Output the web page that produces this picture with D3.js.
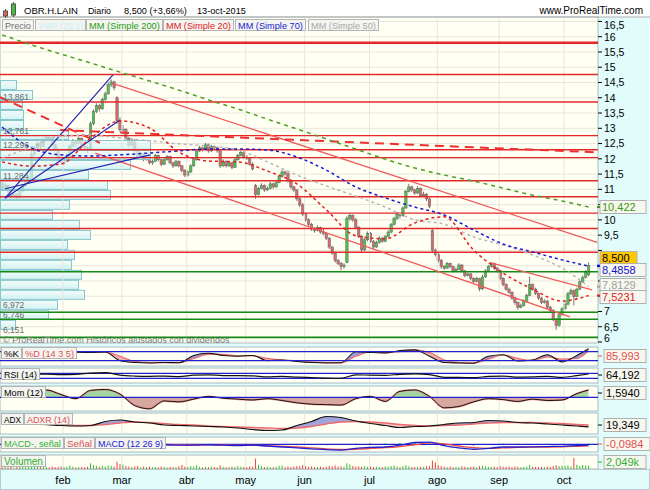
<!DOCTYPE html>
<html><head><meta charset="utf-8">
<script src="https://cdn.jsdelivr.net/npm/d3@7"></script>
<style>
body{margin:0;background:#fff;}
svg{display:block;font-family:"Liberation Sans",Arial,sans-serif;}
</style></head><body><svg id="c" width="650" height="490"></svg>
<script>
// ---------------- DATA ----------------
const monthNames = ["ene","feb","mar","abr","may","jun","jul","ago","sep","oct"];
// daily bars [open, high, low, close]
const barsEne = [[11.20,11.25,10.95,11.04],[11.04,11.20,11.00,11.14],[11.14,11.16,10.88,10.94],[10.94,10.98,10.70,10.79],[10.79,10.92,10.72,10.84],[10.84,10.88,10.66,10.74],[10.74,10.98,10.70,10.94],[10.94,11.18,10.90,11.14],[11.14,11.32,11.08,11.28],[11.28,11.45,11.22,11.38],[11.40,12.25,11.38,12.16],[12.16,12.42,12.10,12.36],[12.36,12.60,12.30,12.51],[12.51,12.58,12.30,12.41],[12.41,12.68,12.38,12.61],[12.61,12.78,12.55,12.70],[12.70,12.75,12.55,12.66],[12.66,12.70,12.40,12.46],[12.46,12.50,12.25,12.31],[12.31,12.35,11.95,12.02],[12.02,12.08,11.80,11.87]];
const barsFeb = [[11.87,12.00,11.78,11.92],[11.92,12.12,11.88,12.06],[12.06,12.48,12.02,12.41],[12.41,12.65,12.38,12.56],[12.56,12.62,12.42,12.51],[12.51,12.72,12.48,12.66],[12.66,12.70,12.40,12.46],[12.46,12.52,12.30,12.36],[12.36,12.42,12.18,12.26],[12.28,13.22,12.25,13.15],[13.15,13.62,13.10,13.55],[13.55,13.82,13.50,13.74],[13.74,13.80,13.55,13.64],[13.64,14.00,13.60,13.94],[13.94,14.20,13.90,14.13],[14.13,14.50,14.10,14.43],[14.43,14.60,14.35,14.52],[14.52,14.56,14.25,14.33],[14.00,14.05,13.15,13.25],[13.25,13.35,12.88,12.95]];
const barsMar = [[12.95,13.10,12.80,12.96],[12.96,13.00,12.60,12.66],[12.66,12.72,12.40,12.46],[12.46,12.68,12.42,12.61],[12.61,12.65,12.20,12.26],[12.26,12.30,12.00,12.06],[12.06,12.22,12.02,12.16],[12.16,12.20,11.92,11.97],[11.97,12.12,11.94,12.07],[12.07,12.10,11.82,11.87],[11.87,11.98,11.80,11.92],[11.92,12.16,11.90,12.11],[12.11,12.14,11.92,11.97],[11.97,12.00,11.76,11.82],[11.82,12.02,11.80,11.97],[11.97,12.12,11.94,12.07],[12.07,12.10,11.82,11.87],[11.87,11.90,11.70,11.77],[11.77,11.96,11.74,11.92],[11.92,11.95,11.72,11.77],[11.77,11.80,11.56,11.62],[11.62,11.66,11.40,11.47]];
const barsAbr = [[11.47,11.62,11.42,11.57],[11.57,11.82,11.54,11.77],[11.77,12.02,11.74,11.97],[11.97,12.32,11.94,12.26],[12.26,12.42,12.22,12.36],[12.36,12.40,12.24,12.31],[12.31,12.52,12.28,12.46],[12.46,12.50,12.20,12.26],[12.26,12.46,12.22,12.41],[12.41,12.44,12.30,12.36],[12.36,12.40,12.20,12.26],[12.26,12.30,11.70,11.77],[11.77,11.98,11.74,11.92],[11.92,11.95,11.72,11.77],[11.77,11.92,11.74,11.87],[11.87,11.90,11.66,11.72],[11.72,12.02,11.70,11.97],[11.97,12.16,11.94,12.11],[12.11,12.26,12.08,12.21],[12.21,12.24,12.00,12.06]];
const barsMay = [[12.06,12.12,11.96,12.02],[12.02,12.06,11.78,11.82],[11.82,11.88,11.62,11.67],[11.13,11.18,10.69,10.83],[10.83,11.08,10.80,11.03],[11.03,11.20,11.00,11.13],[11.13,11.16,10.92,10.98],[10.98,11.10,10.94,11.03],[11.03,11.24,11.00,11.18],[11.18,11.22,11.02,11.08],[11.08,11.30,11.05,11.23],[11.23,11.48,11.20,11.42],[11.42,11.64,11.38,11.57],[11.57,11.62,11.45,11.52],[11.52,11.55,11.22,11.28],[11.28,11.32,11.02,11.08],[11.08,11.12,10.92,10.98],[10.98,11.00,10.62,10.69],[10.69,10.74,10.42,10.49],[10.49,10.55,10.12,10.19]];
const barsJun = [[10.19,10.24,9.94,10.00],[10.00,10.05,9.80,9.85],[9.85,9.90,9.64,9.70],[9.70,9.76,9.58,9.65],[9.65,9.82,9.62,9.75],[9.75,9.78,9.55,9.60],[9.60,9.70,9.50,9.55],[9.55,9.58,9.34,9.40],[9.40,9.44,9.05,9.11],[9.11,9.15,8.86,8.91],[8.91,8.95,8.60,8.67],[8.67,8.72,8.52,8.57],[8.57,8.62,8.35,8.47],[8.47,8.58,8.40,8.52],[8.60,10.12,8.58,10.05],[10.05,10.22,9.98,10.14],[10.14,10.18,9.94,10.00],[10.00,10.06,9.70,9.76],[9.76,9.80,9.40,9.46],[9.46,9.50,8.95,9.02],[9.02,9.40,8.98,9.35],[9.35,9.62,9.30,9.56]];
const barsJul = [[9.56,9.60,9.25,9.30],[9.30,9.34,9.05,9.11],[9.11,9.32,9.08,9.26],[9.26,9.46,9.22,9.40],[9.40,9.44,9.25,9.30],[9.30,9.50,9.27,9.45],[9.45,9.66,9.42,9.60],[9.60,9.90,9.56,9.85],[9.85,10.10,9.82,10.05],[10.05,10.25,10.00,10.19],[10.19,10.22,10.05,10.14],[10.14,10.45,10.10,10.39],[10.39,10.98,10.36,10.93],[10.93,11.18,10.90,11.08],[11.08,11.12,10.92,10.98],[10.98,11.02,10.82,10.88],[10.88,11.10,10.85,11.03],[11.03,11.06,10.74,10.79],[10.79,10.92,10.76,10.84],[10.84,10.88,10.62,10.69],[10.69,10.72,10.38,10.44],[9.65,9.70,8.95,9.01],[9.01,9.06,8.80,8.87]];
const barsAgo = [[8.87,8.92,8.60,8.67],[8.67,8.72,8.40,8.47],[8.47,8.52,8.36,8.42],[8.42,8.62,8.40,8.57],[8.57,8.60,8.42,8.47],[8.47,8.50,8.28,8.33],[8.33,8.44,8.30,8.38],[8.38,8.58,8.35,8.52],[8.52,8.55,8.28,8.33],[8.33,8.36,8.12,8.18],[8.18,8.28,8.15,8.23],[8.23,8.26,8.02,8.08],[8.08,8.12,7.92,7.98],[7.98,8.14,7.95,8.08],[8.08,8.10,7.66,7.74],[7.74,8.20,7.70,8.13],[8.13,8.38,8.10,8.33],[8.33,8.52,8.30,8.47],[8.47,8.62,8.44,8.57],[8.57,8.60,8.36,8.42],[8.42,8.46,8.28,8.33]];
const barsSep = [[8.33,8.36,8.02,8.08],[8.08,8.12,7.82,7.88],[7.88,7.92,7.68,7.73],[7.73,7.78,7.58,7.63],[7.63,7.66,7.38,7.44],[7.44,7.48,7.22,7.29],[7.29,7.32,7.06,7.14],[7.14,7.26,7.10,7.19],[7.19,7.40,7.16,7.34],[7.34,7.58,7.30,7.53],[7.53,8.14,7.50,7.88],[7.88,7.92,7.68,7.73],[7.73,7.78,7.54,7.59],[7.59,7.62,7.38,7.44],[7.44,7.48,7.24,7.29],[7.29,7.40,7.26,7.34],[7.34,7.38,7.08,7.14],[7.14,7.18,6.98,7.04],[7.04,7.08,6.68,6.75],[6.75,6.78,6.40,6.55],[6.55,6.95,6.50,6.90],[6.90,7.14,6.86,7.09]];
const barsOct = [[7.09,7.30,7.05,7.24],[7.24,7.64,7.20,7.58],[7.58,7.75,7.54,7.68],[7.68,7.72,7.20,7.49],[7.49,7.78,7.46,7.73],[7.73,8.02,7.70,7.97],[7.97,8.18,7.94,8.12],[8.12,8.36,8.08,8.31],[8.20,8.60,8.15,8.50]];
// daily volume (thousands)
const volEne = [1.5,1.2,1.0,1.3,0.8,1.1,1.4,1.6,1.2,1.8,3.2,2.0,1.5,1.2,1.8,1.3,1.0,1.5,1.2,1.4,1.6];
const volFeb = [1.2,1.5,2.2,1.4,1.0,1.2,1.3,1.1,1.4,3.5,2.4,1.8,1.3,2.0,1.6,2.2,2.0,1.5,4.5,3.0];
const volMar = [2.6,1.8,1.5,1.2,1.6,1.9,1.0,1.4,1.2,1.5,1.1,1.3,1.0,1.6,1.2,1.0,1.4,1.1,1.3,1.7,2.5,1.4];
const volAbr = [1.2,1.8,1.5,2.2,1.3,1.0,1.4,1.1,1.6,1.2,1.0,2.3,1.4,1.1,1.2,1.5,1.3,1.8,1.4,1.2];
const volMay = [1.1,1.6,1.4,6.5,2.6,1.8,1.2,1.5,1.3,1.1,1.4,1.9,2.1,1.2,1.6,1.3,1.5,1.8,1.6,2.4];
const volJun = [1.8,1.4,1.6,1.2,1.3,1.5,1.1,1.4,1.9,1.6,2.2,1.5,1.7,1.4,3.5,2.8,1.8,1.5,1.6,1.4,1.7,1.3];
const volJul = [1.5,1.2,1.4,1.3,1.2,1.6,1.4,1.8,2.1,1.5,1.2,1.9,2.4,1.6,1.3,1.2,1.4,1.5,1.3,1.6,1.8,5.2,4.0];
const volAgo = [2.3,1.8,1.4,1.2,1.5,1.1,1.3,1.2,1.6,1.4,1.2,1.3,1.5,1.1,1.8,2.0,1.6,1.4,1.3,1.5,1.2];
const volSep = [1.6,1.4,1.3,1.5,1.2,1.6,1.4,1.2,1.3,1.5,2.4,1.3,1.2,1.1,1.4,1.2,1.5,1.3,1.7,2.3,1.8,2.0];
const volOct = [1.9,2.1,1.6,6.8,2.6,1.8,2.5,2.2,2.049];

// moving averages & indicators read at these bar indices
const sampleIdx = [0,5,10,15,20,25,30,35,40,45,50,55,60,65,70,75,80,85,90,95,100,105,110,115,120,125,130,135,140,145,150,155,160,165,170,175,180,185,190,195,199];
const maIdx = [0,10,20,30,40,50,60,70,80,90,100,110,120,130,140,150,160,170,180,190,199];
const sma200 = [16.06,15.73,15.43,15.14,14.84,14.55,14.25,13.93,13.63,13.30,12.98,12.65,12.32,11.99,11.70,11.47,11.27,11.04,10.81,10.62,10.422];
const sma20  = [11.90,11.76,11.83,12.68,13.24,13.01,12.22,11.93,11.90,11.60,11.18,10.33,9.48,9.38,9.90,10.10,9.01,8.26,7.73,7.34,7.5231];
const sma70  = [13.04,12.35,12.13,12.09,12.13,12.19,12.26,12.32,12.32,12.29,12.06,11.63,11.08,10.72,10.42,10.16,9.67,9.21,8.95,8.69,8.4858];
const sma50  = [12.03,12.39,12.75,12.78,12.68,12.59,12.49,12.42,12.29,11.90,11.47,11.11,10.78,10.42,10.00,9.86,9.44,9.18,8.85,8.42,7.8129];
const stochK = [70,70,75,80,78,76,75,78,20,8,5,8,6,55,70,55,50,55,20,25,15,8,5,6,80,75,72,88,92,50,8,5,3,50,60,18,25,60,12,55,100];
const stochD = [72,71,72,78,79,77,76,77,50,15,7,7,7,35,62,62,52,53,35,24,20,11,7,6,50,78,74,80,90,75,25,7,5,30,58,35,22,45,30,35,85.993];
const rsi14  = [55,55,62,63,60,62,72,76,55,48,46,48,44,55,58,52,52,50,42,45,40,36,32,30,58,55,54,62,65,60,38,38,35,45,48,40,42,46,38,52,64.192];
const mom12  = [1.0,1.3,1.5,1.6,0.6,-0.3,1.5,1.7,0.7,-1.8,-2.5,-0.8,-1.0,-0.4,0.2,-0.2,-0.4,-0.6,-0.3,-0.7,-1.2,-1.5,-1.6,-1.7,-0.3,0.2,-0.9,1.3,1.6,0.2,-2.3,-2.0,-1.0,-0.3,-0.5,-0.9,-0.4,-0.7,-0.6,0.8,1.594];
const adx    = [30,28,26,24,22,21,22,30,33,29,27,23,22,21,20,19,17,14,12,13,22,30,40,38,31,26,22,18,20,21,24,27,28,32,31,28,27,25,23,21,19.349];
const adxr   = [27,26,25,24,23,22,22,24,27,29,28,26,24,23,21,20,19,18,17,16,17,20,25,29,30,29,27,24,22,21,22,23,25,27,28,28,28,27,26,24,23];
const macd   = [0.1,0.15,0.2,0.25,0.2,0.1,0.15,0.3,0.35,0.2,0.05,-0.05,-0.1,-0.1,-0.05,-0.1,-0.15,-0.1,-0.2,-0.3,-0.4,-0.5,-0.6,-0.65,-0.45,-0.35,-0.3,-0.1,0.2,0.25,-0.15,-0.4,-0.55,-0.45,-0.3,-0.3,-0.28,-0.25,-0.22,-0.15,-0.0984];
const macdSignal = [0.05,0.1,0.15,0.2,0.22,0.15,0.12,0.22,0.3,0.27,0.15,0.03,-0.05,-0.08,-0.07,-0.08,-0.12,-0.12,-0.15,-0.22,-0.3,-0.4,-0.5,-0.58,-0.55,-0.45,-0.38,-0.25,-0.05,0.15,0.05,-0.2,-0.38,-0.45,-0.4,-0.35,-0.32,-0.3,-0.27,-0.22,-0.18];

// volume by price (25 bins, top to bottom)
const vwpRange = [6.40, 14.58];
const vwpVolumes = [16,32,22,23,23,68,150,150,130,88,107,110,69,52,79,90,67,74,71,81,78,84,57,48,15];

// drawn levels
const redLevels = [15.80,14.76,13.861,12.761,12.296,12.04,11.284,10.76,10.22,9.72,8.94];
const greenLevels = [8.30,6.972,6.746,6.151];
const labeledLevels = [13.861,12.761,12.296,11.284,6.972,6.746,6.151];
// trend lines [[i,v],[i,v]]
const redTrend = [[[38.3,14.45],[201.9,9.26]],[[31.6,12.19],[192.7,6.82]],[[165.6,8.60],[200.2,7.71]]];
const redDashTrend = [[[-0.7,14.02],[33.2,12.52]],[[19.7,12.94],[202.2,12.21]]];
const blueTrend = [[[1.0,10.71],[37.6,14.75]],[[1.0,10.71],[40.0,13.27]],[[1.0,11.02],[50.2,12.13]]];

const priceTicks = [6,6.5,7,7.5,8,8.5,9,9.5,10,10.5,11,11.5,12,12.5,13,13.5,14,14.5,15,15.5,16,16.5];
const lastValues = [
  {v:"10,422", c:"#3a9a10", y:10.422},
  {v:"8,500", c:"#000", y:8.5, bg:"#ffc800"},
  {v:"8,4858", c:"#1010d0", y:8.4858},
  {v:"7,8129", c:"#a0a0a0", y:7.8129},
  {v:"7,5231", c:"#e02020", y:7.5231}
];
const headerTexts = [["OBR.H.LAIN",24,54],["Diario",88,23],["8,500 (+3,66%)",124,63],["13-oct-2015",197,49]];
const legendItems = [["Precio","#707070",2,31],["VWP (25 1)","#c4f2f6",35,50],["MM (Simple 200)","#2a9a10",86,76],["MM (Simple 20)","#e02020",163,70],["MM (Simple 70)","#1a1ad0",235,70],["MM (Simple 50)","#a8a8a8",308,70]];

// ---------------- BUILD ----------------
const monthSets = [barsEne,barsFeb,barsMar,barsAbr,barsMay,barsJun,barsJul,barsAgo,barsSep,barsOct];
const volSets = [volEne,volFeb,volMar,volAbr,volMay,volJun,volJul,volAgo,volSep,volOct];
const bars = [];
const monthStart = [];
monthSets.forEach((m,mi)=>{ monthStart.push(bars.length); m.forEach((b,k)=>bars.push({i:bars.length,o:b[0],h:b[1],l:b[2],c:b[3],vol:volSets[mi][k]})); });
const N = bars.length;

const W=650,H=490,PR=598,MT=17,MB=343;
const svg = d3.select("#c");
const defs = svg.append("defs");
const x = d3.scaleLinear().domain([0,N-1]).range([2.1,588.6]);
const y = d3.scaleLinear().domain([6,16]).range([342.0,36.7]);
const BG="#fffff4", GRID="#e6e6da", BORDER="#a9babe";
const fmt = v => String(v).replace('.',',');

svg.append("rect").attr("width",W).attr("height",H).attr("fill","#fff");
svg.append("rect").attr("x",0).attr("y",MT).attr("width",W).attr("height",H-MT).attr("fill","#e2fcfc");
svg.append("rect").attr("x",0).attr("y",MT).attr("width",PR).attr("height",MB-MT).attr("fill",BG).attr("stroke",BORDER);

defs.append("clipPath").attr("id","mclip").append("rect").attr("x",0).attr("y",MT).attr("width",PR).attr("height",MB-MT);
const gm = svg.append("g").attr("clip-path","url(#mclip)");

gm.selectAll(".hg").data(priceTicks).join("line").attr("x1",0).attr("x2",PR).attr("y1",d=>y(d)).attr("y2",d=>y(d)).attr("stroke",GRID);
const monthX = monthStart.slice(1).map(s=>x(s)-1);

// candles
gm.selectAll(".wk").data(bars).join("line").attr("x1",d=>x(d.i)).attr("x2",d=>x(d.i)).attr("y1",d=>y(d.h)).attr("y2",d=>y(d.l)).attr("stroke","#707070").attr("stroke-width",1);
gm.selectAll(".bd").data(bars).join("rect").attr("x",d=>x(d.i)-1.2).attr("width",2.4)
  .attr("y",d=>y(Math.max(d.o,d.c))).attr("height",d=>Math.max(1,Math.abs(y(d.o)-y(d.c))))
  .attr("fill",d=>d.c>=d.o?"#46c846":"#e06868").attr("stroke","#6e6e6e").attr("stroke-width",0.6);

// volume by price
const binH = (vwpRange[1]-vwpRange[0])/vwpVolumes.length;
const vx = d3.scaleLinear().domain([0,150]).range([0,150]);
const grad = defs.append("linearGradient").attr("id","vg").attr("x1",0).attr("x2",0).attr("y1",0).attr("y2",1);
grad.append("stop").attr("offset","0").attr("stop-color","#eefcfd");
grad.append("stop").attr("offset","1").attr("stop-color","#c4eef2");
gm.selectAll(".vwp").data(vwpVolumes).join("rect")
  .attr("x",0.5).attr("y",(d,k)=>y(vwpRange[1]-k*binH)+0.5).attr("height",(d,k)=>y(vwpRange[1]-(k+1)*binH)-y(vwpRange[1]-k*binH)-1)
  .attr("width",d=>vx(d)).attr("fill","url(#vg)").attr("fill-opacity",0.72).attr("stroke","#86c6cc").attr("stroke-width",1);

gm.selectAll(".vg").data(monthX).join("line").attr("x1",d=>d).attr("x2",d=>d).attr("y1",MT).attr("y2",MB).attr("stroke",GRID);

gm.selectAll(".rl").data(redLevels).join("line").attr("x1",0).attr("x2",PR).attr("y1",d=>y(d)).attr("y2",d=>y(d)).attr("stroke","#e42828").attr("stroke-width",(d,k)=>k==0?2.4:1.4);
gm.selectAll(".gl").data(greenLevels).join("line").attr("x1",0).attr("x2",PR).attr("y1",d=>y(d)).attr("y2",d=>y(d)).attr("stroke","#168a16").attr("stroke-width",1.6);

const seg = (s)=>({x1:x(s[0][0]),y1:y(s[0][1]),x2:x(s[1][0]),y2:y(s[1][1])});
function drawSegs(data,color,w,dash){
  gm.append("g").selectAll("line").data(data.map(seg)).join("line")
    .attr("x1",d=>d.x1).attr("y1",d=>d.y1).attr("x2",d=>d.x2).attr("y2",d=>d.y2)
    .attr("stroke",color).attr("stroke-width",w).attr("stroke-dasharray",dash||null);
}
drawSegs(redTrend,"#f05a5a",1.3);
drawSegs(redDashTrend,"#ee3030",2,"9,6");
drawSegs(blueTrend,"#2424b4",1.2);

const maLine = d3.line().x((d,k)=>x(maIdx[k])).y(d=>y(d)).curve(d3.curveMonotoneX);
[[sma200,"#4aa020","4,4",1.5],[sma50,"#b8b8b8","3,3",1.5],[sma70,"#1a1ad0","3,3",1.5],[sma20,"#e02020","3,3",1.5]].forEach(m=>{
  gm.append("path").attr("d",maLine(m[0])).attr("fill","none").attr("stroke",m[1]).attr("stroke-dasharray",m[2]).attr("stroke-width",m[3]);
});

// level labels (baselines nudged so neighbouring labels do not collide)
const labelBase = [100,133.5,147.5,178.5,308,317.5,332.5];
gm.selectAll(".ll").data(labeledLevels).join("text").attr("x",3).attr("y",(d,k)=>labelBase[k]).text(d=>fmt(d))
  .attr("font-size",8.5).attr("fill","#6a6a6a");
gm.append("text").attr("x",3).attr("y",343).text("\u00a9 ProRealTime.com  Hist\u00f3ricos ajustados con dividendos").attr("font-size",9).attr("fill","#7a7a7a");

// right price axis
const lvPos = [207,258,270,285,297];
const tickLabelY = d=>Math.max(25,Math.min(338.5,y(d)));
svg.append("g").selectAll("line").data(priceTicks).join("line").attr("x1",PR).attr("x2",PR+4).attr("y1",d=>y(d)).attr("y2",d=>y(d)).attr("stroke","#000");
svg.append("g").selectAll("text").data(priceTicks.filter(t=>lvPos.every(p=>Math.abs(tickLabelY(t)-p)>9))).join("text").attr("x",PR+6)
  .attr("y",d=>tickLabelY(d)+3.8).text(d=>fmt(d)).attr("font-size",10.5).attr("fill","#000");
const lv = svg.append("g");
lastValues.forEach((d,k)=>{
  const yy = lvPos[k];
  lv.append("rect").attr("x",PR+2).attr("y",yy-6.5).attr("width",d.bg?37:46).attr("height",13).attr("fill",d.bg||"#f7f7ef").attr("stroke","#b0b0b0");
  lv.append("text").attr("x",PR+4).attr("y",yy+4).text(d.v).attr("font-size",11).attr("fill",d.c);
  lv.append("line").attr("x1",PR-1).attr("x2",PR+2).attr("y1",y(d.y)).attr("y2",y(d.y)).attr("stroke",d.bg?"#1010d0":d.c).attr("stroke-width",2);
});

// ---------------- INDICATOR PANELS ----------------
const panels = {stoch:[347,366],rsi:[368,383],mom:[386,411],adx:[413,434],macd:[437,452],vol:[455,469]};
Object.entries(panels).forEach(([k,p])=>{
  svg.append("rect").attr("x",0).attr("y",p[0]).attr("width",PR).attr("height",p[1]-p[0]).attr("fill",BG).attr("stroke",BORDER);
  defs.append("clipPath").attr("id","c_"+k).append("rect").attr("x",0).attr("y",p[0]).attr("width",PR).attr("height",p[1]-p[0]);
  svg.append("g").selectAll("line").data(monthX).join("line").attr("x1",d=>d).attr("x2",d=>d).attr("y1",p[0]).attr("y2",p[1]).attr("stroke",GRID);
});
const sx = k => x(sampleIdx[k]);
function pg(k){ return svg.append("g").attr("clip-path","url(#c_"+k+")"); }
function hline(g,yy,c){ g.append("line").attr("x1",0).attr("x2",PR).attr("y1",yy).attr("y2",yy).attr("stroke",c).attr("stroke-width",1.2); }
function fillBetween(g,id,a,b,ys,c1,c2,top,bot){
  const ar = d3.area().x((d,k)=>sx(k)).y0((d,k)=>ys(b[k])).y1(d=>ys(d)).curve(d3.curveMonotoneX);
  const up = d3.area().x((d,k)=>sx(k)).y0(top).y1(d=>ys(d)).curve(d3.curveMonotoneX);
  const dn = d3.area().x((d,k)=>sx(k)).y0(bot).y1(d=>ys(d)).curve(d3.curveMonotoneX);
  defs.append("clipPath").attr("id",id+"u").append("path").attr("d",up(b));
  defs.append("clipPath").attr("id",id+"d").append("path").attr("d",dn(b));
  g.append("path").attr("d",ar(a)).attr("fill",c1).attr("clip-path","url(#"+id+"u)");
  g.append("path").attr("d",ar(a)).attr("fill",c2).attr("clip-path","url(#"+id+"d)");
}
const sline = ys => d3.line().x((d,k)=>sx(k)).y(d=>ys(d)).curve(d3.curveMonotoneX);

{ const g=pg("stoch"); const ys=d3.scaleLinear().domain([0,100]).range([363.7,348.7]);
  fillBetween(g,"st",stochK,stochD,ys,"#9c9cdc","#f0b0b0",340,370);
  g.append("path").attr("d",sline(ys)(stochD)).attr("fill","none").attr("stroke","#ee6a6a").attr("stroke-width",1.2);
  g.append("path").attr("d",sline(ys)(stochK)).attr("fill","none").attr("stroke","#111").attr("stroke-width",1.1);
  hline(g,ys(80),"#2020d0"); hline(g,ys(20),"#2020d0"); }
{ const g=pg("rsi"); const ys=d3.scaleLinear().domain([0,100]).range([382.05,369.55]);
  hline(g,ys(70),"#2020d0"); hline(g,ys(30),"#2020d0");
  g.append("path").attr("d",sline(ys)(rsi14)).attr("fill","none").attr("stroke","#111").attr("stroke-width",1.2); }
{ const g=pg("mom"); const ys=d3.scaleLinear().domain([-3,3]).range([411.1,383.5]);
  const zero = mom12.map(()=>0);
  fillBetween(g,"mo",mom12,zero,ys,"#a6d6a0","#d6a8a0",380,415);
  g.append("path").attr("d",sline(ys)(mom12)).attr("fill","none").attr("stroke","#f07070").attr("stroke-width",2).attr("opacity",0.6);
  g.append("path").attr("d",sline(ys)(mom12)).attr("fill","none").attr("stroke","#111").attr("stroke-width",1);
  hline(g,ys(0),"#2020d0"); }
{ const g=pg("adx"); const ys=d3.scaleLinear().domain([5,45]).range([434,414]);
  fillBetween(g,"ad",adx,adxr,ys,"#a4a4dc","#f4c4c4",405,440);
  g.append("path").attr("d",sline(ys)(adxr)).attr("fill","none").attr("stroke","#ee6a6a").attr("stroke-width",1.3);
  g.append("path").attr("d",sline(ys)(adx)).attr("fill","none").attr("stroke","#111").attr("stroke-width",1.2); }
{ const g=pg("macd"); const ys=d3.scaleLinear().domain([-1,1]).range([453.3,435.3]);
  g.selectAll(".h").data(macd).join("line").attr("x1",(d,k)=>sx(k)).attr("x2",(d,k)=>sx(k))
    .attr("y1",ys(0)).attr("y2",(d,k)=>ys(d-macdSignal[k])).attr("stroke",(d,k)=>d>=macdSignal[k]?"#30c030":"#f06060").attr("stroke-width",1.5);
  hline(g,ys(0),"#2020d0");
  g.append("path").attr("d",sline(ys)(macdSignal)).attr("fill","none").attr("stroke","#ee4a4a").attr("stroke-width",1.3);
  g.append("path").attr("d",sline(ys)(macd)).attr("fill","none").attr("stroke","#2020d0").attr("stroke-width",1.3); }
{ const g=pg("vol"); const ys=d3.scaleLinear().domain([0,8]).range([469,456]);
  g.selectAll("line").data(bars).join("line").attr("x1",d=>x(d.i)).attr("x2",d=>x(d.i)).attr("y1",ys(0)).attr("y2",d=>ys(d.vol))
    .attr("stroke",d=>d.c>=d.o?"#30c030":"#ee4040").attr("stroke-width",1); }

// label boxes: [text, colour, x, width]
function labels(yy,items,h){
  items.forEach(it=>{
    svg.append("rect").attr("x",it[2]+0.5).attr("y",yy+0.5).attr("width",it[3]).attr("height",h).attr("fill","#f4f4f0").attr("stroke","#b4b4b4");
    const t = svg.append("text").attr("x",it[2]+3).attr("y",yy+h-1.5).text(it[0]).attr("font-size",10.5).attr("fill",it[1]);
    const need = it[3]-5;
    if (t.node().getComputedTextLength() > need) t.attr("font-size",10.5*need/t.node().getComputedTextLength());
  });
}
labels(347,[["%K","#000",1,20],["%D (14 3 5)","#e05050",22,54]],11);
labels(368,[["RSI (14)","#000",1,38]],11);
labels(386,[["Mom (12)","#000",1,44]],11);
labels(413,[["ADX","#000",1,22],["ADXR (14)","#e05050",24,48]],11);
labels(437,[["MACD-, se\u00f1al","#30b030",1,62],["Se\u00f1al","#e05050",64,30],["MACD (12 26 9)","#2020d0",95,70]],11);
labels(455,[["Volumen","#30b030",1,44]],11);
labels(19,legendItems,11);

[[356,"85,993","#e05050"],[375,"64,192","#000"],[393,"1,5940","#000"],[425,"19,349","#000"],[444,"-0,0984","#e05050"],[462,"2,049k","#30b030"]].forEach(d=>{
  svg.append("rect").attr("x",PR+6).attr("y",d[0]-6.5).attr("width",d[1].length>6?46:42).attr("height",13).attr("fill","#f7f7ef").attr("stroke","#b0b0b0");
  svg.append("text").attr("x",PR+8).attr("y",d[0]+4).text(d[1]).attr("font-size",11).attr("fill",d[2]);
  svg.append("line").attr("x1",PR).attr("x2",PR+4).attr("y1",d[0]).attr("y2",d[0]).attr("stroke",d[2]);
});

svg.append("g").selectAll("text").data(monthX).join("text").attr("x",d=>d).attr("y",484).attr("text-anchor","middle")
  .text((d,k)=>monthNames[k+1]).attr("font-size",11).attr("fill","#000");
svg.append("rect").attr("x",0.5).attr("y",469.5).attr("width",W-1).attr("height",20).attr("fill","none").attr("stroke","#b8c8cc");

// header
svg.append("line").attr("x1",0).attr("x2",W).attr("y1",MT).attr("y2",MT).attr("stroke","#b0b0b0");
const hd = svg.append("g");
hd.append("line").attr("x1",5.5).attr("x2",5.5).attr("y1",9).attr("y2",18).attr("stroke","#555");
hd.append("rect").attr("x",3.5).attr("y",11).attr("width",4).attr("height",5).attr("fill","#e06060").attr("stroke","#555");
hd.append("line").attr("x1",13.5).attr("x2",13.5).attr("y1",2).attr("y2",17).attr("stroke","#555");
hd.append("rect").attr("x",11.5).attr("y",4).attr("width",4).attr("height",11).attr("fill","#40c040").attr("stroke","#555");
headerTexts.forEach(t=>{
  const e = hd.append("text").attr("x",t[1]).attr("y",14).text(t[0]).attr("font-size",11).attr("fill","#000");
  const w = e.node().getComputedTextLength(); if (w>t[2]) e.attr("font-size",11*t[2]/w);
});
hd.append("text").attr("x",643).attr("y",14).attr("text-anchor","end").text("www.ProRealTime.com").attr("font-size",10).attr("fill","#000");
</script></body></html>
